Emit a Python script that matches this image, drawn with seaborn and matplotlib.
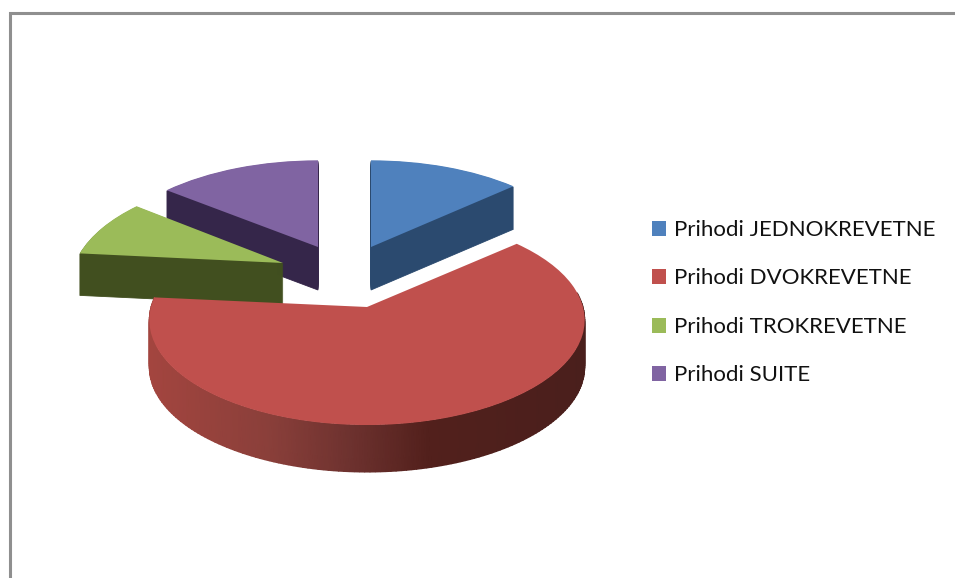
import numpy as np
import matplotlib
matplotlib.use("Agg")
import matplotlib.pyplot as plt
import matplotlib.transforms as mtransforms
from matplotlib.patches import Patch, Wedge
from matplotlib.colors import LinearSegmentedColormap
import seaborn as sns

# ---- data -------------------------------------------------------------
categories = ["Prihodi JEDNOKREVETNE", "Prihodi DVOKREVETNE",
              "Prihodi TROKREVETNE", "Prihodi SUITE"]
shares = [13.5, 63.0, 9.0, 14.5]

# ---- styles -----------------------------------------------------------
sns.set_theme(style="white")
plt.rcParams["font.family"] = ["Lato", "DejaVu Sans"]
top_colors = sns.color_palette(["#4F81BD", "#C0504D", "#9BBB59", "#8064A2"])
side_colors = ["#2B4A6F", "#6E2E2B", "#414F1F", "#35264A"]
shade = LinearSegmentedColormap.from_list(
    "side", ["#A3453F", "#8A3F3A", "#6E322F", "#52201C", "#4A1F1C"])

# apex pixel position, horizontal scale, vertical scale, perspective
views = [
    dict(cx=371, cy=247, a=215, b=104, k=0.20),
    dict(cx=367, cy=307, a=216, b=103.4, k=0.124),
    dict(cx=283, cy=263, a=208, b=104, k=0.20),
    dict(cx=318, cy=247, a=215, b=104, k=0.20),
]
depths = [43, 47, 42, 43]
draw_order = [3, 0, 2, 1]


class Perspective(mtransforms.Transform):
    """Lay a unit-radius pie flat on a receding plane, output in pixels."""
    input_dims = output_dims = 2
    is_separable = False
    has_inverse = False

    def __init__(self, cx, cy, a, b, k, drop=0.0):
        super().__init__()
        self.p = (cx, cy, a, b, k, drop)

    def transform_non_affine(self, values):
        cx, cy, a, b, k, drop = self.p
        v = np.asarray(values, dtype=float)
        w = 1.0 + k * v[:, 1]
        return np.column_stack((cx + a * v[:, 0] / w,
                                cy - b * v[:, 1] / w + drop))


fig = plt.figure(figsize=(9.55, 5.78), dpi=100, facecolor="white")
ax = fig.add_axes([0, 0, 1, 1])

wedges, _ = ax.pie(shares, startangle=90, counterclock=False, colors=top_colors,
                   wedgeprops=dict(linewidth=0))
ax.set_aspect("auto")
ax.set_xlim(0, 955)
ax.set_ylim(578, 0)
ax.axis("off")

z = 10
for i in draw_order:
    w, v = wedges[i], views[i]
    if i == 1:
        # curved outer wall with its left-to-right shading
        th = np.radians(np.linspace(w.theta1, 8, 160))
        tr = Perspective(**v)
        pts = tr.transform_non_affine(np.column_stack((np.cos(th), np.sin(th))))
        X = np.vstack((pts[:, 0], pts[:, 0]))
        Y = np.vstack((pts[:, 1], pts[:, 1] + depths[i]))
        C = np.interp(X, [150, 270, 350, 430, 585], [0, .25, .5, .75, 1])
        ax.pcolormesh(X, Y, C, cmap=shade, shading="gouraud", vmin=0, vmax=1,
                      zorder=z)
    else:
        for d in range(depths[i], 0, -1):
            ax.add_patch(Wedge((0, 0), 1, w.theta1, w.theta2,
                               facecolor=side_colors[i], edgecolor=side_colors[i],
                               linewidth=0.6, zorder=z,
                               transform=Perspective(**v, drop=d) + ax.transData))
    w.set_transform(Perspective(**v) + ax.transData)
    w.set_zorder(z + 1)
    z += 2

# chart-area border: only top and left survive the crop
ax.plot([10, 10, 955], [578, 13, 13], color="#8F8F8F", lw=2.2, zorder=1,
        solid_joinstyle="miter", clip_on=False)

handles = [Patch(facecolor=c, edgecolor="none") for c in top_colors]
ax.legend(handles, categories, loc="upper left",
          bbox_to_anchor=(652 / 955, 1 - 220 / 578),
          frameon=False, fontsize=16, handlelength=0.63, handleheight=0.66,
          handletextpad=0.36, labelspacing=1.28, borderaxespad=0, borderpad=0,
          labelcolor="#111111")

fig.savefig("out.png", dpi=100, facecolor="white")
